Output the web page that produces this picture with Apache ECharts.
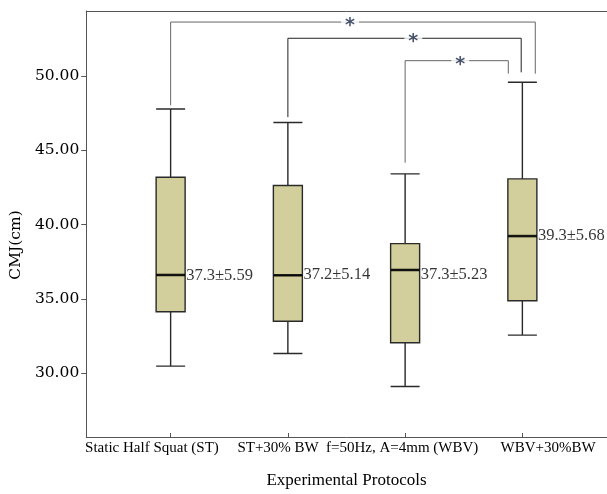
<!DOCTYPE html>
<html><head><meta charset="utf-8">
<script src="https://cdn.jsdelivr.net/npm/echarts@6/dist/echarts.min.js"></script>
<style>html,body{margin:0;padding:0;background:#fff}#c{width:607px;height:494px}</style>
</head><body><div id="c"></div>
<script>
const categories = ['Static Half Squat (ST)', 'ST+30% BW', 'f=50Hz, A=4mm (WBV)', 'WBV+30%BW'];
// [min, Q1, median, Q3, max]
const boxLow = [30.27, 31.12, 28.88, 32.37];
const boxQ1 = [33.96, 33.31, 31.85, 34.70];
const boxMedian = [36.45, 36.43, 36.79, 39.09];
const boxQ3 = [43.08, 42.52, 38.58, 42.97];
const boxHigh = [47.71, 46.80, 43.31, 49.53];
const meanLabels = ['37.3±5.59', '37.2±5.14', '37.3±5.23', '39.3±5.68'];
const meanLabelY = [36.40, 36.45, 36.45, 39.09];
const yTicks = [30, 35, 40, 45, 50];
const yMin = 25.73, yMax = 54.36;
// significance brackets: x in category-index units, y in CMJ units
const bracketA = [[0, 47.96], [0, 53.61], [3.11, 53.61], [3.11, 50.11]];
const bracketB = [[1, 47.16], [1, 52.51], [2.99, 52.51], [2.99, 50.20]];
const bracketC = [[2, 44.07], [2, 50.99], [2.88, 50.99], [2.88, 50.11]];
const stars = [[1.53, 53.61], [2.07, 52.51], [2.47, 50.99]];
const labelShift = [-18.7, -9.8, -3, 25.7];

const serif = 'Liberation Serif';
const chart = echarts.init(document.getElementById('c'), null, {renderer: 'canvas'});

const boxData = categories.map((c, i) => [boxLow[i], boxQ1[i], boxMedian[i], boxQ3[i], boxHigh[i]]);
const catData = categories.map((c, i) => {
  const s = labelShift[i];
  return {value: c, textStyle: {padding: s < 0 ? [0, -2 * s, 0, 0] : [0, 0, 0, 2 * s]}};
});

function bracketSeries(d, color) {
  return {type: 'line', xAxisIndex: 3, yAxisIndex: 1, data: d, symbol: 'none', silent: true,
    lineStyle: {color: color, width: 1}, z: 3, animation: false};
}
const frameLine = {show: true, lineStyle: {color: '#555', width: 1}};

chart.setOption({
  animation: false,
  grid: [
    {left: 86, top: 11, bottom: 57, right: 0, containLabel: false},
    {left: 112, top: 11, bottom: 57, right: 26, containLabel: false}
  ],
  xAxis: [
    {gridIndex: 0, type: 'value', min: 0, max: 1, position: 'bottom', axisLine: frameLine,
      axisTick: {show: false}, axisLabel: {show: false}, splitLine: {show: false}},
    {gridIndex: 0, type: 'value', min: 0, max: 1, position: 'top', axisLine: frameLine,
      axisTick: {show: false}, axisLabel: {show: false}, splitLine: {show: false}},
    {gridIndex: 1, type: 'category', data: catData, boundaryGap: true,
      axisLine: {show: false},
      axisTick: {show: true, alignWithLabel: true, length: 4, lineStyle: {color: '#555'}},
      axisLabel: {interval: 0, margin: 8, fontFamily: serif, fontSize: 15, color: '#000'},
      name: 'Experimental Protocols', nameLocation: 'middle', nameGap: 39,
      nameTextStyle: {fontFamily: serif, fontSize: 17, color: '#000'}},
    {gridIndex: 1, type: 'value', min: -0.5, max: 3.5, show: false}
  ],
  yAxis: [
    {gridIndex: 0, type: 'value', min: yMin, max: yMax,
      axisLine: frameLine,
      axisTick: {show: true, length: 5, customValues: yTicks, lineStyle: {color: '#555'}},
      axisLabel: {customValues: yTicks, margin: 7, fontFamily: 'DejaVu Serif', fontSize: 15.5, color: '#000',
        formatter: v => v.toFixed(2), padding: [0, 0, 8, 0]},
      splitLine: {show: false},
      name: 'CMJ(cm)', nameLocation: 'middle', nameGap: 60, nameRotate: 90,
      nameTextStyle: {fontFamily: 'DejaVu Serif', fontSize: 15.5, color: '#000', padding: [0, 42, 0, 0]}},
    {gridIndex: 1, type: 'value', min: yMin, max: yMax, show: false}
  ],
  series: [
    {type: 'boxplot', xAxisIndex: 2, yAxisIndex: 1, data: boxData, boxWidth: [29, 29],
      itemStyle: {color: '#d3cf9c', borderColor: '#2a2a2a', borderWidth: 1.4}, z: 2},
    {type: 'scatter', xAxisIndex: 2, yAxisIndex: 1, symbol: 'rect', symbolSize: [29, 2.6],
      data: boxMedian.map((m, i) => [i, m]), itemStyle: {color: '#000'}, z: 4, silent: true},
    {type: 'scatter', xAxisIndex: 2, yAxisIndex: 1, symbolSize: 0.01,
      data: meanLabelY.map((y, i) => [i, y]), silent: true, z: 5,
      label: {show: true, position: 'right', distance: 15.5, fontFamily: serif, fontSize: 16.5, color: '#000',
        formatter: p => meanLabels[p.dataIndex]}},
    bracketSeries(bracketA, '#666'),
    bracketSeries(bracketB, '#222'),
    bracketSeries(bracketC, '#666'),
    {type: 'scatter', xAxisIndex: 3, yAxisIndex: 1, symbolSize: 0.01, data: stars, silent: true, z: 6,
      label: {show: true, position: 'inside', formatter: '*', fontFamily: 'DejaVu Sans', fontWeight: 'bold',
        fontSize: 19, lineHeight: 12, color: '#1c2b48', backgroundColor: '#fff', padding: [0, 4, 0, 4], offset: [0, 4]}}
  ]
});
</script></body></html>
